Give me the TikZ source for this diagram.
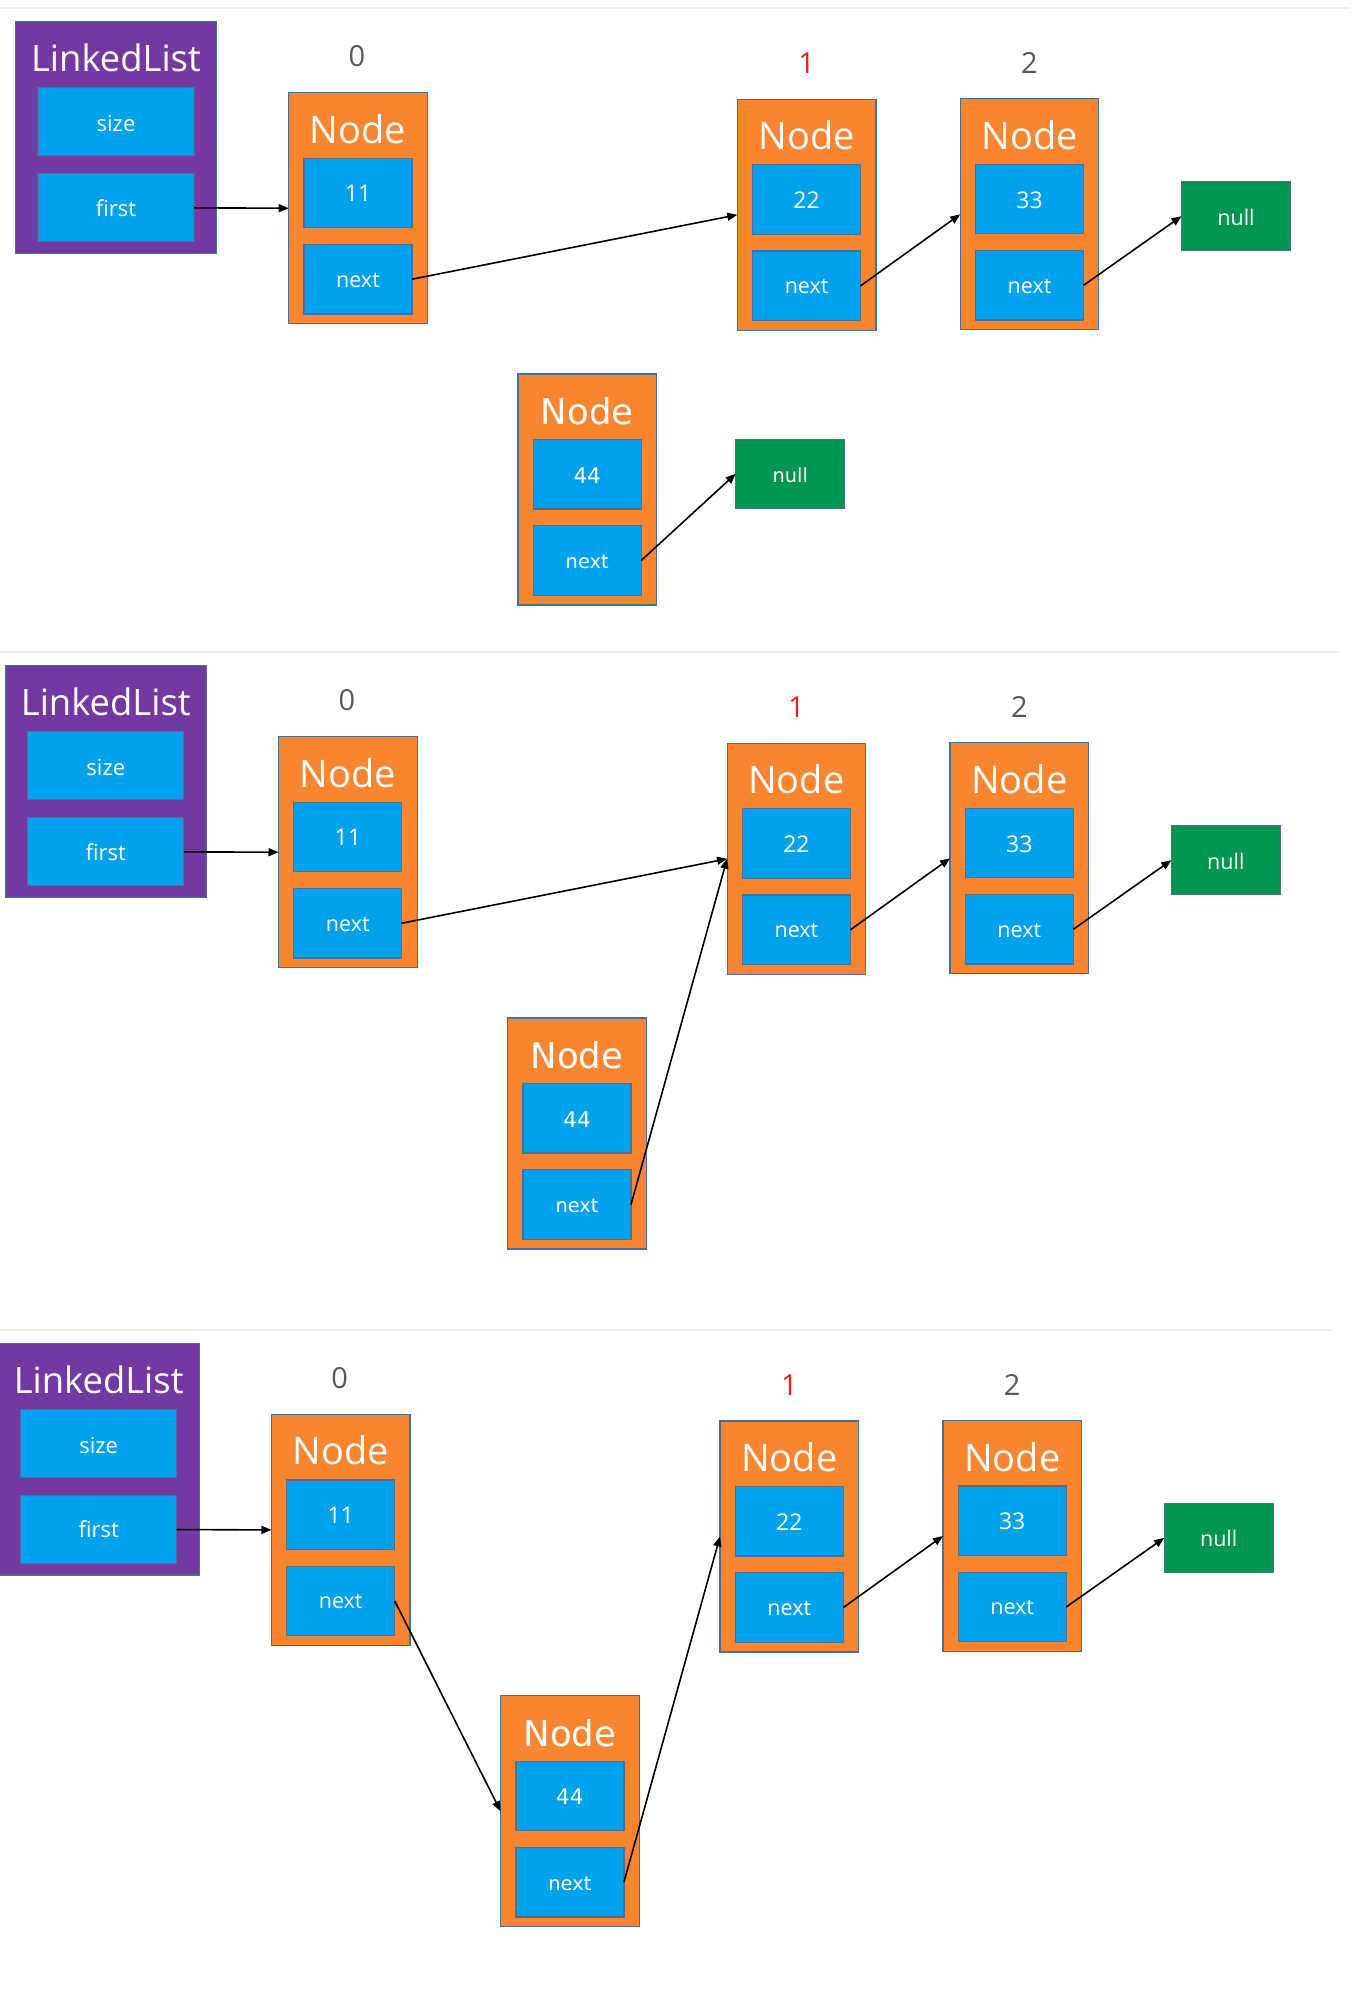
\documentclass[tikz,border=0pt]{standalone}
\usepackage{fontspec}
\setmainfont{Open Sans}
\newfontfamily\dvfont{DejaVu Sans}
\usetikzlibrary{arrows.meta}
\definecolor{llpurple}{HTML}{7339A3}
\definecolor{fblue}{HTML}{00A2ED}
\definecolor{norange}{HTML}{FA8530}
\definecolor{ngreen}{HTML}{00964F}
\definecolor{olc}{HTML}{4A6F9A}
\definecolor{idxgray}{HTML}{595959}
\definecolor{idxred}{HTML}{EE1C1C}
\definecolor{sepgray}{HTML}{EEEEEE}
\tikzset{
 box/.style={draw=olc, line width=0.6pt, inner sep=0pt, outer sep=0pt},
 llbox/.style={box, fill=llpurple, minimum width=100.5pt, minimum height=115.8pt},
 nodebox/.style={box, fill=norange, minimum width=69.3pt, minimum height=115.5pt},
 fieldbox/.style={box, fill=fblue, minimum width=54pt, minimum height=34.75pt},
 llfield/.style={box, fill=fblue, minimum width=78pt, minimum height=34pt},
 nullbox/.style={box, fill=ngreen, minimum width=54.5pt, minimum height=34.5pt},
 txt/.style={text=white, inner sep=0pt, anchor=base},
 lltitle/.style={txt, font=\fontsize{18.2}{20}\selectfont},
 llftxt/.style={txt, font=\fontsize{11}{13}\selectfont},
 titleA/.style={txt, font=\fontsize{19}{21}\selectfont},
 valA/.style={txt, font=\fontsize{11.5}{13}\selectfont},
 nextA/.style={txt, font=\fontsize{10.75}{12}\selectfont},
 titleB/.style={txt, font=\dvfont\fontsize{17.75}{20}\selectfont},
 valB/.style={txt, font=\dvfont\fontsize{10.75}{12}\selectfont},
 nextB/.style={txt, font=\dvfont\fontsize{9.7}{11}\selectfont},
 nullA/.style={txt, font=\fontsize{10.75}{12}\selectfont},
 nullB/.style={txt, font=\dvfont\fontsize{9.7}{11}\selectfont},
 idx/.style={inner sep=0pt, anchor=base, text=idxgray, font=\fontsize{14.5}{16}\selectfont},
 link/.style={draw=black, line width=0.8pt, -{Triangle[length=5pt,width=4pt]}},
 sepline/.style={draw=sepgray, line width=1pt},
}
\newcommand\listnode[5]{%
 \node[nodebox] (#1) at (#2,#3+115.5) {};
 \node[fieldbox] (#1v) at (#2,#3+100.25) {};
 \node[fieldbox] (#1n) at (#2,#3+186.5) {};
 \node[title#5] (#1tt) at (#2,#3+50.5) {Node};
 \node[val#5] (#1vt) at (#2,#3+109.2) {#4};
 \node[next#5] (#1nt) at (#2,#3+194.3) {next};
}
\newcommand\drawpanel[3]{%
\begin{scope}[shift={(#2,#3)}]
 \node[llbox] (#1L) at (116,137.5) {};
 \node[llfield] (#1size) at (116,121.85) {};
 \node[llfield] (#1first) at (116,207.85) {};
 \node[lltitle] (#1Lt) at (116,71.7) {LinkedList};
 \node[llftxt] (#1sizet) at (116,131.7) {size};
 \node[llftxt] (#1firstt) at (116,216) {first};
 \node[idx] (#1i0) at (357,66.7) {0};
 \node[idx, text=idxred] (#1i1) at (806.6,73.3) {1};
 \node[idx] (#1i2) at (1029.5,73.3) {2};
 \listnode{#1a}{358}{92.7}{11}{A}
 \listnode{#1b}{806.6}{99.3}{22}{A}
 \listnode{#1c}{1029.5}{98.8}{33}{A}
 \listnode{#1d}{587.2}{374}{44}{B}
 \node[nullbox] (#1z) at (1236,216.2) {};
 \node[nullA] (#1zt) at (1236,225) {null};
 \draw[link] (#1first.east) -- (#1a.west);
 \draw[link] (#1bn.east) -- (#1c.west);
 \draw[link] (#1cn.east) -- (#1z.west);
\end{scope}}
\begin{document}
\begin{tikzpicture}[x=0.5pt,y=-0.5pt]
 \useasboundingbox (0,0) rectangle (1360,2004);
 \fill[white] (0,0) rectangle (1360,2004);
 \draw[sepline] (0,8) -- (1350,8);
 \draw[sepline] (0,652) -- (1340,652);
 \draw[sepline] (0,1330) -- (1333,1330);
 % panel 1
 \drawpanel{p}{0}{0}
 \node[nullbox] (pw) at (790.2,473.8) {};
 \node[nullB] (pwt) at (790.2,482.3) {null};
 \draw[link] (pan.east) -- (pb.west);
 \draw[link] (pdn.east) -- (pw.west);
 % panel 2
 \drawpanel{q}{-10.2}{644}
 \draw[link] (qan.east) -- (qb.west);
 \draw[link] (qdn.east) -- (qb.west);
 % panel 3
 \drawpanel{r}{-17.3}{1321.7}
 \draw[link] (ran.east) -- (rd.west);
 \draw[link] (rdn.east) -- (rb.west);
\end{tikzpicture}
\end{document}
